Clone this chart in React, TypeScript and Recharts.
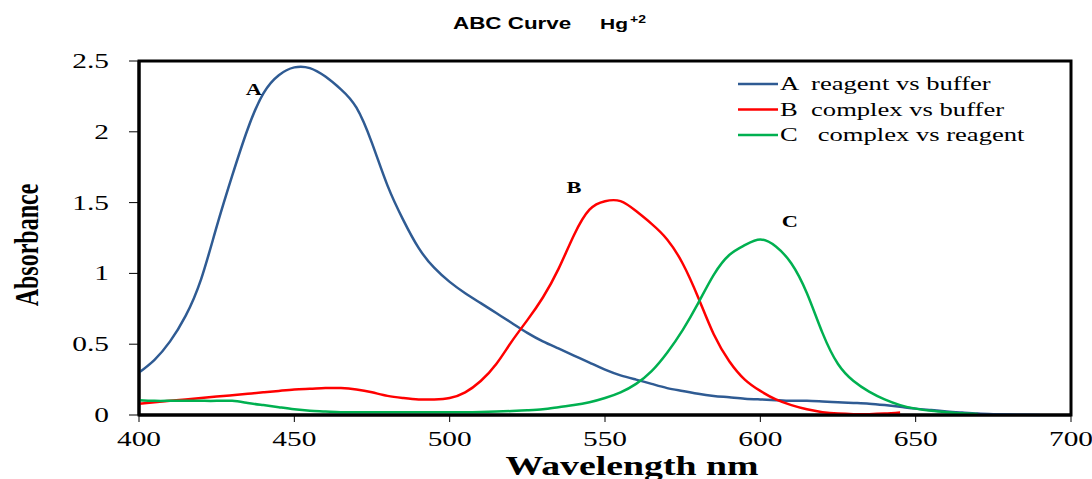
import React from 'react';
import {
  LineChart,
  Line,
  XAxis,
  YAxis,
  Legend,
  ReferenceArea,
  ReferenceDot,
} from 'recharts';

// wavelength (nm) and absorbance, null where a curve has stopped
const wavelengths = [
  400, 405, 410, 415, 420, 425, 430, 435, 440, 445, 450, 455, 460, 465, 470, 475, 480, 485, 490, 495,
  500, 505, 510, 515, 520, 525, 530, 535, 540, 545, 550, 555, 560, 565, 570, 575, 580, 585, 590, 595,
  600, 605, 610, 615, 620, 625, 630, 635, 640, 645, 650, 655, 660, 665, 670, 675, 680, 685, 690,
];

const reagentVsBuffer = [
  0.30, 0.39, 0.52, 0.70, 0.96, 1.33, 1.69, 2.02, 2.27, 2.40, 2.455, 2.45, 2.39, 2.30, 2.17, 1.92, 1.62, 1.38, 1.18, 1.04,
  0.94, 0.86, 0.79, 0.72, 0.65, 0.58, 0.52, 0.47, 0.42, 0.37, 0.32, 0.28, 0.25, 0.22, 0.19, 0.17, 0.15, 0.135, 0.125, 0.115,
  0.11, 0.105, 0.10, 0.10, 0.095, 0.09, 0.085, 0.08, 0.07, 0.058, 0.045, 0.035, 0.025, 0.017, 0.01, 0.006, 0.003, 0.001, 0,
];

const complexVsBuffer = [
  0.08, 0.09, 0.10, 0.11, 0.12, 0.13, 0.14, 0.15, 0.16, 0.17, 0.18, 0.185, 0.19, 0.19, 0.18, 0.16, 0.135, 0.12, 0.11, 0.11,
  0.12, 0.16, 0.24, 0.36, 0.52, 0.67, 0.83, 1.03, 1.27, 1.45, 1.51, 1.51, 1.44, 1.35, 1.24, 1.07, 0.83, 0.57, 0.38, 0.25,
  0.17, 0.11, 0.07, 0.04, 0.02, 0.01, 0.006, 0.006, 0.01, 0.018, null, null, null, null, null, null, null, null, null,
];

const complexVsReagent = [
  0.105, 0.10, 0.10, 0.10, 0.10, 0.10, 0.10, 0.085, 0.07, 0.055, 0.04, 0.03, 0.025, 0.02, 0.02, 0.02, 0.02, 0.02, 0.02, 0.02,
  0.02, 0.02, 0.022, 0.025, 0.028, 0.033, 0.04, 0.055, 0.07, 0.09, 0.12, 0.16, 0.22, 0.31, 0.44, 0.60, 0.79, 0.99, 1.13, 1.20,
  1.24, 1.19, 1.07, 0.86, 0.58, 0.36, 0.24, 0.165, 0.11, 0.07, 0.045, 0.03, 0.02, 0.012, 0.007, null, null, null, null,
];

const xTicks = [400, 450, 500, 550, 600, 650, 700];
const yTicks = [0, 0.5, 1, 1.5, 2, 2.5];

const seriesNames = ['A  reagent vs buffer', 'B  complex vs buffer', 'C   complex vs reagent'];
const seriesColors = ['#2f5b93', '#ff0000', '#00b050'];

const SERIF = '"Liberation Serif", "Times New Roman", serif';
const SANS = '"Liberation Sans", Arial, sans-serif';
const STRETCH = 1.4; // the source picture is widened horizontally

const data = wavelengths.map((nm, i) => ({
  nm,
  a: reagentVsBuffer[i],
  b: complexVsBuffer[i],
  c: complexVsReagent[i],
}));

const XTick = (props: any) => {
  const { x, payload } = props;
  return (
    <text
      transform={`translate(${x},446) scale(${STRETCH},1)`}
      textAnchor="middle"
      fontFamily={SERIF}
      fontSize={21}
      fill="#000"
    >
      {payload.value}
    </text>
  );
};

const YTick = (props: any) => {
  const { y, payload } = props;
  return (
    <text
      transform={`translate(109,${y + 7}) scale(${STRETCH},1)`}
      textAnchor="end"
      fontFamily={SERIF}
      fontSize={21}
      fill="#000"
    >
      {payload.value}
    </text>
  );
};

const curveLabel = (text: string) => (props: any) => {
  const { viewBox } = props;
  return (
    <text
      transform={`translate(${viewBox.x},${viewBox.y + 6}) scale(${STRETCH},1)`}
      textAnchor="middle"
      fontFamily={SERIF}
      fontWeight="bold"
      fontSize={16}
      fill="#000"
    >
      {text}
    </text>
  );
};

const LegendBox = () => (
  <svg width={340} height={80} style={{ display: 'block', overflow: 'visible' }}>
    {seriesNames.map((name, i) => {
      const y = 14 + i * 25.5;
      return (
        <g key={name}>
          <line x1={3} x2={43} y1={y} y2={y} stroke={seriesColors[i]} strokeWidth={2.5} />
          <text
            transform={`translate(45,${y + 6}) scale(${STRETCH},1)`}
            fontFamily={SERIF}
            fontSize={19}
            fill="#000"
            style={{ whiteSpace: 'pre' }}
          >
            {name}
          </text>
        </g>
      );
    })}
  </svg>
);

export default function App() {
  return (
    <div style={{ position: 'absolute', left: 0, top: 0, width: 1092, height: 479, background: '#fff' }}>
      <LineChart width={1092} height={479} data={data} margin={{ top: 61, right: 21, bottom: 0, left: 0 }}>
        <ReferenceArea
          x1={400}
          x2={700}
          y1={0}
          y2={2.5}
          fill="none"
          fillOpacity={0}
          stroke="#000"
          strokeWidth={3}
        />
        <XAxis
          dataKey="nm"
          type="number"
          domain={[400, 700]}
          ticks={xTicks}
          height={64}
          tickSize={7}
          tickLine={{ stroke: '#000' }}
          axisLine={{ stroke: '#000', strokeWidth: 3 }}
          tick={<XTick />}
        />
        <YAxis
          type="number"
          domain={[0, 2.5]}
          ticks={yTicks}
          width={139}
          tickSize={10}
          tickLine={{ stroke: '#000' }}
          axisLine={{ stroke: '#000', strokeWidth: 3 }}
          tick={<YTick />}
        />
        <Legend
          layout="horizontal"
          verticalAlign="middle"
          align="center"
          wrapperStyle={{ position: 'absolute', left: 735, top: 70, width: 340 }}
          content={<LegendBox />}
        />
        <Line type="natural" dataKey="a" stroke={seriesColors[0]} strokeWidth={2.5} dot={false} isAnimationActive={false} />
        <Line type="natural" dataKey="b" stroke={seriesColors[1]} strokeWidth={2.5} dot={false} isAnimationActive={false} />
        <Line type="natural" dataKey="c" stroke={seriesColors[2]} strokeWidth={2.5} dot={false} isAnimationActive={false} />
        <ReferenceDot x={437} y={2.3} r={0} fill="none" stroke="none" label={{ content: curveLabel('A') }} />
        <ReferenceDot x={540} y={1.61} r={0} fill="none" stroke="none" label={{ content: curveLabel('B') }} />
        <ReferenceDot x={609.5} y={1.37} r={0} fill="none" stroke="none" label={{ content: curveLabel('C') }} />
      </LineChart>
      <svg width={1092} height={479} style={{ position: 'absolute', left: 0, top: 0, pointerEvents: 'none' }}>
        <text transform={`translate(453,29) scale(${STRETCH},1)`} fontFamily={SANS} fontWeight="bold" fontSize={16} fill="#000">
          ABC Curve
        </text>
        <text transform={`translate(600,29) scale(${STRETCH},1)`} fontFamily={SANS} fontWeight="bold" fontSize={15} fill="#000">
          Hg
        </text>
        <text transform={`translate(630,23) scale(${STRETCH},1)`} fontFamily={SANS} fontWeight="bold" fontSize={10} fill="#000">
          +2
        </text>
        <text
          transform={`translate(38,245) scale(${STRETCH},1) rotate(-90)`}
          textAnchor="middle"
          fontFamily={SERIF}
          fontWeight="bold"
          fontSize={24}
          fill="#000"
        >
          Absorbance
        </text>
        <text
          transform={`translate(632,475) scale(${STRETCH},1)`}
          textAnchor="middle"
          fontFamily={SERIF}
          fontWeight="bold"
          fontSize={27}
          fill="#000"
        >
          Wavelength nm
        </text>
      </svg>
    </div>
  );
}
